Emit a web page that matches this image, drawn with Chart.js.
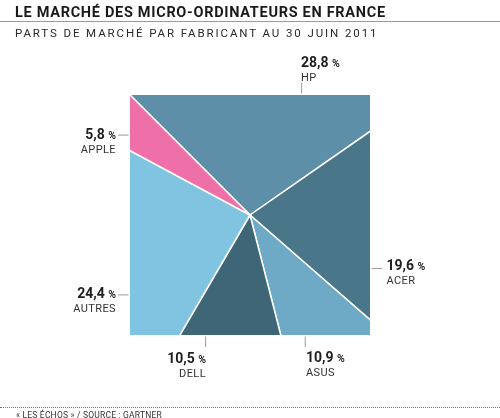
<!DOCTYPE html>
<html lang="fr">
<head>
<meta charset="utf-8">
<script src="https://cdn.jsdelivr.net/npm/chart.js@4/dist/chart.umd.min.js"></script>
<style>
    html, body { margin: 0; padding: 0; background: #fff; }
    body { width: 500px; height: 418px; position: relative; overflow: hidden; font-family: Roboto, "Noto Sans", sans-serif; }
    #chart { position: absolute; left: 0; top: 0; }
    .titre { position: absolute; left: 15px; top: 4.5px; font-size: 14.5px; line-height: 16px; font-weight: 700; color: #1a1a1a; letter-spacing: 0.7px; white-space: nowrap; }
    .regle { position: absolute; left: 0; top: 21px; width: 500px; border-top: 1px solid #9a9a9a; }
    .sous-titre { position: absolute; left: 15px; top: 27px; font-size: 11.5px; line-height: 13px; color: #2a2a2a; letter-spacing: 1.9px; white-space: nowrap; }
    .pied { position: absolute; left: 0; top: 407px; width: 500px; border-top: 1px dotted #777; }
    .source { position: absolute; left: 16px; top: 409.8px; font-size: 8.5px; line-height: 10px; color: #333; letter-spacing: 0.2px; white-space: nowrap; }
    .etiquette { position: absolute; white-space: nowrap; }
    .etiquette .val { font-size: 14px; line-height: 15px; font-weight: 700; color: #1e1e1e; }
    .etiquette .val small { font-size: 10.5px; font-weight: 700; }
    .etiquette .nom { font-size: 11px; line-height: 13px; color: #333; letter-spacing: 0.4px; }
</style>
</head>
<body>
<canvas id="chart" width="500" height="418"></canvas>
<div class="titre">LE MARCHÉ DES MICRO-ORDINATEURS EN FRANCE</div>
<div class="regle"></div>
<div class="sous-titre">PARTS DE MARCHÉ PAR FABRICANT AU 30 JUIN 2011</div>
<div class="pied"></div>
<div class="source">« LES ÉCHOS » / SOURCE : GARTNER</div>

<script>
    // données
    const fabricants = ['HP', 'ACER', 'ASUS', 'DELL', 'AUTRES', 'APPLE'];
    const parts = [28.8, 19.6, 10.9, 10.5, 24.4, 5.8];

    // styles
    const couleurs = ['#5e8fa8', '#4a768a', '#6eaac6', '#3e6677', '#80c4e1', '#ef6fa9'];

    // place des étiquettes (x, haut, alignement) et des petits traits (bord, position 0..1)
    const etiquettes = [
        {x: 301, y: 55, align: 'left'},
        {x: 386.5, y: 258, align: 'left'},
        {x: 306, y: 350, align: 'left'},
        {x: 206, y: 350.5, align: 'right'},
        {x: 116, y: 286, align: 'right'},
        {x: 116, y: 127, align: 'right'}
    ];
    const traits = [
        {bord: 'top', pos: 0.715},
        {bord: 'right', pos: 0.723},
        {bord: 'bottom', pos: 0.73},
        {bord: 'bottom', pos: 0.315},
        {bord: 'left', pos: 0.833},
        {bord: 'left', pos: 0.167}
    ];

    // angle (depuis le coin) pour qu'une part de la surface du carré soit proportionnelle à la valeur
    function angleCarre(f) {
        const g = Math.min(Math.max(f, 0), 1) * 8;
        const k = Math.min(Math.floor(g), 7);
        const r = g - k;
        let deg;
        if (k % 2 === 0) {
            deg = k * 45 + 45 - Math.atan(1 - r) * 180 / Math.PI;
        } else {
            deg = k * 45 + Math.atan(r) * 180 / Math.PI;
        }
        return deg * Math.PI / 180;
    }

    class SquarePieController extends Chart.PieController {
        _circumference(i, reset) {
            const meta = this._cachedMeta;
            const total = meta.total;
            if (!total) return 0;
            let avant = 0;
            for (let j = 0; j < i; j++) {
                avant += Math.abs(meta._parsed[j]) || 0;
            }
            const apres = avant + Math.abs(meta._parsed[i]);
            return angleCarre(apres / total) - angleCarre(avant / total);
        }
    }
    SquarePieController.id = 'squarePie';
    SquarePieController.defaults = Chart.PieController.defaults;
    Chart.register(SquarePieController);

    const clipCarre = {
        id: 'clipCarre',
        beforeDatasetsDraw(chart) {
            const a = chart.chartArea;
            chart.ctx.save();
            chart.ctx.beginPath();
            chart.ctx.rect(a.left, a.top, a.right - a.left, a.bottom - a.top);
            chart.ctx.clip();
        },
        afterDatasetsDraw(chart) {
            chart.ctx.restore();
        },
        afterDraw(chart) {
            const a = chart.chartArea;
            const ctx = chart.ctx;
            const ecart = 1.5, long = 10.5;
            ctx.save();
            ctx.strokeStyle = '#9a9a9a';
            ctx.lineWidth = 1;
            ctx.beginPath();
            traits.forEach(t => {
                if (t.bord === 'top') {
                    const x = a.left + (a.right - a.left) * t.pos;
                    ctx.moveTo(x, a.top - ecart);
                    ctx.lineTo(x, a.top - ecart - long);
                } else if (t.bord === 'bottom') {
                    const x = a.left + (a.right - a.left) * t.pos;
                    ctx.moveTo(x, a.bottom + ecart);
                    ctx.lineTo(x, a.bottom + ecart + long);
                } else if (t.bord === 'left') {
                    const y = a.top + (a.bottom - a.top) * t.pos;
                    ctx.moveTo(a.left - ecart, y);
                    ctx.lineTo(a.left - ecart - long, y);
                } else {
                    const y = a.top + (a.bottom - a.top) * t.pos;
                    ctx.moveTo(a.right + ecart, y);
                    ctx.lineTo(a.right + ecart + long, y);
                }
            });
            ctx.stroke();
            ctx.restore();
        }
    };

    new Chart(document.getElementById('chart'), {
        type: 'squarePie',
        data: {
            labels: fabricants,
            datasets: [{
                data: parts,
                backgroundColor: couleurs,
                borderColor: '#ffffff',
                borderWidth: 1.5,
                radius: '150%'
            }]
        },
        options: {
            responsive: false,
            animation: false,
            rotation: -45,
            layout: {
                padding: {left: 130, right: 130, top: 95, bottom: 83}
            },
            plugins: {
                legend: {display: false},
                tooltip: {enabled: false}
            }
        },
        plugins: [clipCarre]
    });

    // étiquettes
    fabricants.forEach((nom, i) => {
        const p = etiquettes[i];
        const div = document.createElement('div');
        div.className = 'etiquette';
        div.style.top = p.y + 'px';
        div.style.textAlign = p.align;
        if (p.align === 'right') {
            div.style.right = (500 - p.x) + 'px';
        } else {
            div.style.left = p.x + 'px';
        }
        const val = parts[i].toFixed(1).replace('.', ',');
        div.innerHTML = '<div class="val">' + val + ' <small>%</small></div><div class="nom">' + nom + '</div>';
        document.body.appendChild(div);
    });
</script>
</body>
</html>
